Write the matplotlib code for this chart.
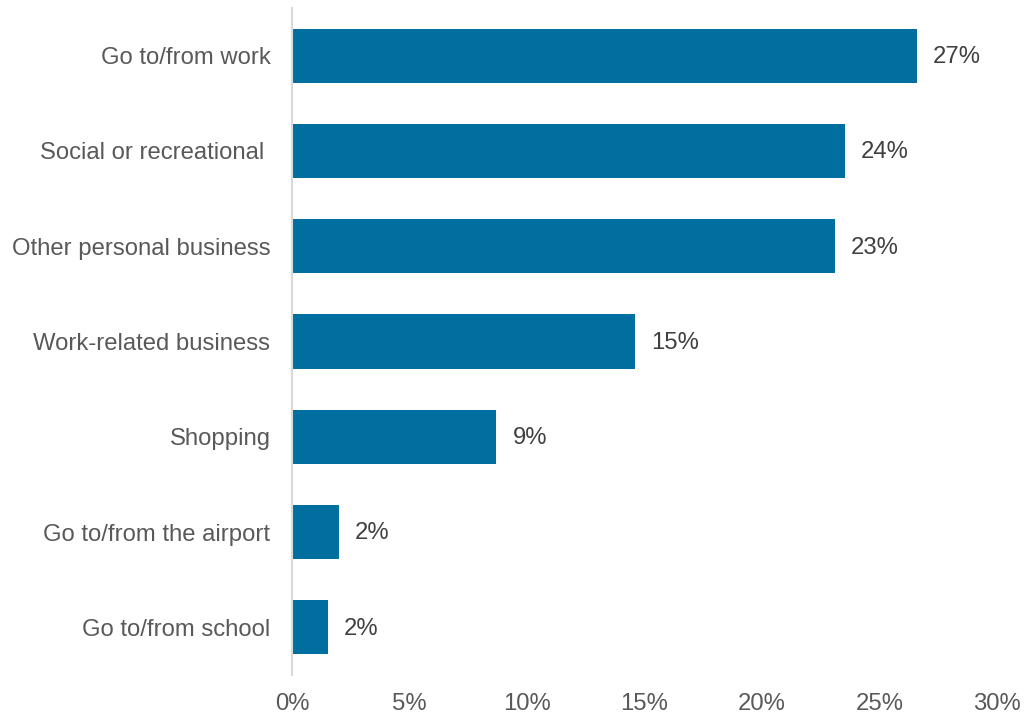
import matplotlib
matplotlib.use("Agg")
import matplotlib.pyplot as plt
from matplotlib.ticker import FuncFormatter

categories = [
    "Go to/from work",
    "Social or recreational ",
    "Other personal business",
    "Work-related business",
    "Shopping",
    "Go to/from the airport",
    "Go to/from school",
]
shares = [26.6, 23.52, 23.1, 14.6, 8.7, 2.0, 1.52]
x_ticks = [0, 5, 10, 15, 20, 25, 30]

bar_color = "#006FA0"
tick_color = "#595959"
label_color = "#404040"
font_size = 17.2

plt.rcParams["font.family"] = ["Liberation Sans", "DejaVu Sans"]

fig = plt.figure(figsize=(10.28, 7.17), dpi=100)
ax = fig.add_axes([0.284, 0.0586, 0.686, 0.9302])

positions = list(range(len(categories)))
ax.barh(positions, shares, height=0.57, color=bar_color, edgecolor="none")

for y, v in zip(positions, shares):
    ax.annotate(f"{v:.0f}%", xy=(v, y), xytext=(11.5, -1), textcoords="offset points",
                ha="left", va="center", fontsize=font_size, color=label_color)

ax.set_xlim(0, 30)
ax.set_ylim(len(categories) - 0.5, -0.5)
ax.set_xticks(x_ticks)
ax.xaxis.set_major_formatter(FuncFormatter(lambda v, _: f"{v:.0f}%"))
ax.set_yticks(positions)
ax.set_yticklabels(categories)

for side in ("top", "right", "bottom"):
    ax.spines[side].set_visible(False)
ax.spines["left"].set_color("#D9D9D9")
ax.spines["left"].set_linewidth(1.5)

ax.tick_params(axis="x", length=0, pad=13, labelsize=font_size, labelcolor=tick_color)
ax.tick_params(axis="y", length=0, pad=15.5, labelsize=font_size, labelcolor=tick_color)

fig.savefig("out.png", dpi=100)
